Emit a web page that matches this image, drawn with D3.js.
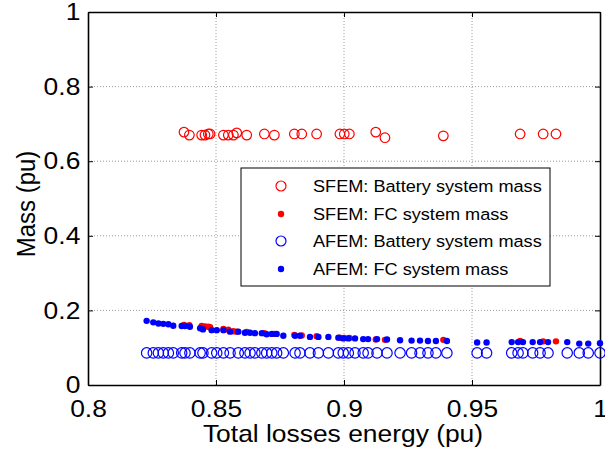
<!DOCTYPE html>
<html>
<head>
<meta charset="utf-8">
<script src="https://cdn.jsdelivr.net/npm/d3@7"></script>
<style>
  html, body { margin: 0; padding: 0; background: #fff; }
  svg { display: block; font-family: "Liberation Sans", Arial, sans-serif; }
</style>
</head>
<body>
<svg id="chart" width="605" height="455"></svg>
<script>
// SFEM solutions: total losses energy (pu)
const sfemEnergy = [0.8375, 0.8396, 0.8444, 0.8457, 0.8470, 0.8477, 0.8529, 0.8548, 0.8568, 0.8581,
  0.8620, 0.8689, 0.8728, 0.8806, 0.8835, 0.8893, 0.8984, 0.9001, 0.9021, 0.9124, 0.9160,
  0.9388, 0.9688, 0.9778, 0.9828];
// SFEM battery system mass (pu)
const sfemBattery = [0.678, 0.670, 0.670, 0.670, 0.673, 0.673, 0.670, 0.670, 0.670, 0.676,
  0.670, 0.673, 0.670, 0.673, 0.673, 0.673, 0.673, 0.673, 0.673, 0.678, 0.663,
  0.668, 0.673, 0.673, 0.673];
// SFEM fuel-cell system mass (pu)
const sfemFC = [0.161, 0.160, 0.158, 0.157, 0.156, 0.155, 0.150, 0.148, 0.144, 0.143,
  0.142, 0.139, 0.137, 0.134, 0.133, 0.131, 0.127, 0.126, 0.126, 0.122, 0.121,
  0.121, 0.118, 0.117, 0.117];

// AFEM solutions: total losses energy (pu)
const afemEnergy = [0.8229, 0.8255, 0.8275, 0.8294, 0.8314, 0.8333, 0.8366, 0.8379, 0.8398, 0.8438,
  0.8449, 0.8483, 0.8503, 0.8529, 0.8555, 0.8587, 0.8613, 0.8633, 0.8652, 0.8679,
  0.8698, 0.8718, 0.8737, 0.8763, 0.8809, 0.8828, 0.8867, 0.8900, 0.8939, 0.8978,
  0.8997, 0.9017, 0.9043, 0.9075, 0.9094, 0.9129, 0.9168, 0.9219, 0.9264, 0.9297,
  0.9328, 0.9359, 0.9402, 0.9520, 0.9557, 0.9655, 0.9680, 0.9699, 0.9737, 0.9766,
  0.9797, 0.9872, 0.9919, 0.9954, 1.0000];
// AFEM battery system mass (pu)
const afemBattery = afemEnergy.map(() => 0.086);
// AFEM fuel-cell system mass (pu)
const afemFC = [0.172, 0.168, 0.165, 0.164, 0.163, 0.159, 0.158, 0.158, 0.156, 0.152,
  0.149, 0.147, 0.147, 0.147, 0.143, 0.143, 0.140, 0.140, 0.139, 0.139,
  0.136, 0.137, 0.137, 0.132, 0.132, 0.132, 0.129, 0.129, 0.129, 0.127,
  0.125, 0.125, 0.125, 0.123, 0.123, 0.123, 0.122, 0.120, 0.119, 0.119,
  0.118, 0.118, 0.118, 0.114, 0.114, 0.115, 0.115, 0.115, 0.115, 0.115,
  0.115, 0.115, 0.111, 0.111, 0.112];

const xTicks = [0.8, 0.85, 0.9, 0.95, 1];
const yTicks = [0, 0.2, 0.4, 0.6, 0.8, 1];
const legendLabels = ["SFEM: Battery system mass", "SFEM: FC system mass",
  "AFEM: Battery system mass", "AFEM: FC system mass"];

const svg = d3.select("#chart");
const mLeft = 88, mRight = 600, mTop = 12, mBottom = 385;
// text in this figure is set slightly wide
const WIDE = "scale(1.1,1)";

const x = d3.scaleLinear().domain([0.8, 1]).range([mLeft, mRight]);
const y = d3.scaleLinear().domain([0, 1]).range([mBottom, mTop]);

// grid
const grid = svg.append("g").attr("stroke", "#9a9a9a").attr("stroke-width", 1)
  .attr("stroke-dasharray", "1,2");
xTicks.slice(1, -1).forEach(t => grid.append("line")
  .attr("x1", x(t)).attr("x2", x(t)).attr("y1", mTop).attr("y2", mBottom));
yTicks.slice(1, -1).forEach(t => grid.append("line")
  .attr("x1", mLeft).attr("x2", mRight).attr("y1", y(t)).attr("y2", y(t)));

// axes with inward ticks
const fmt = d => d3.format("~g")(d);
const xAxis = svg.append("g").attr("transform", `translate(0,${mBottom})`)
  .call(d3.axisBottom(x).tickValues(xTicks).tickSizeInner(-5).tickSizeOuter(0).tickPadding(15).tickFormat(fmt));
const xTopAxis = svg.append("g").attr("transform", `translate(0,${mTop})`)
  .call(d3.axisTop(x).tickValues(xTicks).tickSizeInner(-5).tickSizeOuter(0).tickFormat(""));
const yAxis = svg.append("g").attr("transform", `translate(${mLeft},0)`)
  .call(d3.axisLeft(y).tickValues(yTicks).tickSizeInner(-5).tickSizeOuter(0).tickPadding(7).tickFormat(fmt));
const yRightAxis = svg.append("g").attr("transform", `translate(${mRight},0)`)
  .call(d3.axisRight(y).tickValues(yTicks).tickSizeInner(-5).tickSizeOuter(0).tickFormat(""));
[xAxis, xTopAxis, yAxis, yRightAxis].forEach(g => {
  g.select(".domain").attr("stroke", "#000").attr("stroke-width", 1.6);
  g.selectAll(".tick line").attr("stroke", "#000");
  g.selectAll("text").attr("font-size", 24).attr("fill", "#000")
    .attr("font-family", "'Liberation Sans', Arial, sans-serif")
    .attr("transform", WIDE);
});

// markers
const plot = svg.append("g");
function rings(xs, ys, color, r) {
  plot.append("g").selectAll("circle").data(xs).join("circle")
    .attr("cx", d => x(d)).attr("cy", (d, i) => y(ys[i])).attr("r", r)
    .attr("fill", "none").attr("stroke", color).attr("stroke-width", 1.2);
}
function dots(xs, ys, color, r) {
  plot.append("g").selectAll("circle").data(xs).join("circle")
    .attr("cx", d => x(d)).attr("cy", (d, i) => y(ys[i])).attr("r", r)
    .attr("fill", color);
}
rings(sfemEnergy, sfemBattery, "#ff0000", 4.8);
dots(sfemEnergy, sfemFC, "#ff0000", 3.2);
rings(afemEnergy, afemBattery, "#0000ff", 5.2);
dots(afemEnergy, afemFC, "#0000ff", 3.2);

// axis titles
svg.append("text").attr("transform", `translate(343,442) ${WIDE}`)
  .attr("text-anchor", "middle").attr("font-size", 24).text("Total losses energy (pu)");
svg.append("text").attr("transform", `translate(35,204) ${WIDE} rotate(-90)`)
  .attr("text-anchor", "middle").attr("font-size", 24).text("Mass (pu)");

// legend
const lg = svg.append("g");
lg.append("rect").attr("x", 241).attr("y", 168).attr("width", 309).attr("height", 118)
  .attr("fill", "#fff").attr("stroke", "#000").attr("stroke-width", 1);
const rowY = [186, 214, 241, 269];
const styles = [
  { color: "#ff0000", ring: true }, { color: "#ff0000", ring: false },
  { color: "#0000ff", ring: true }, { color: "#0000ff", ring: false }];
legendLabels.forEach((lab, i) => {
  const s = styles[i];
  const m = lg.append("circle").attr("cx", 281).attr("cy", rowY[i]);
  if (s.ring) m.attr("r", 5).attr("fill", "none").attr("stroke", s.color).attr("stroke-width", 1.2);
  else m.attr("r", 3.2).attr("fill", s.color);
  lg.append("text").attr("transform", `translate(313,${rowY[i] + 6}) ${WIDE}`)
    .attr("font-size", 16.5).text(lab);
});
</script>
</body>
</html>
